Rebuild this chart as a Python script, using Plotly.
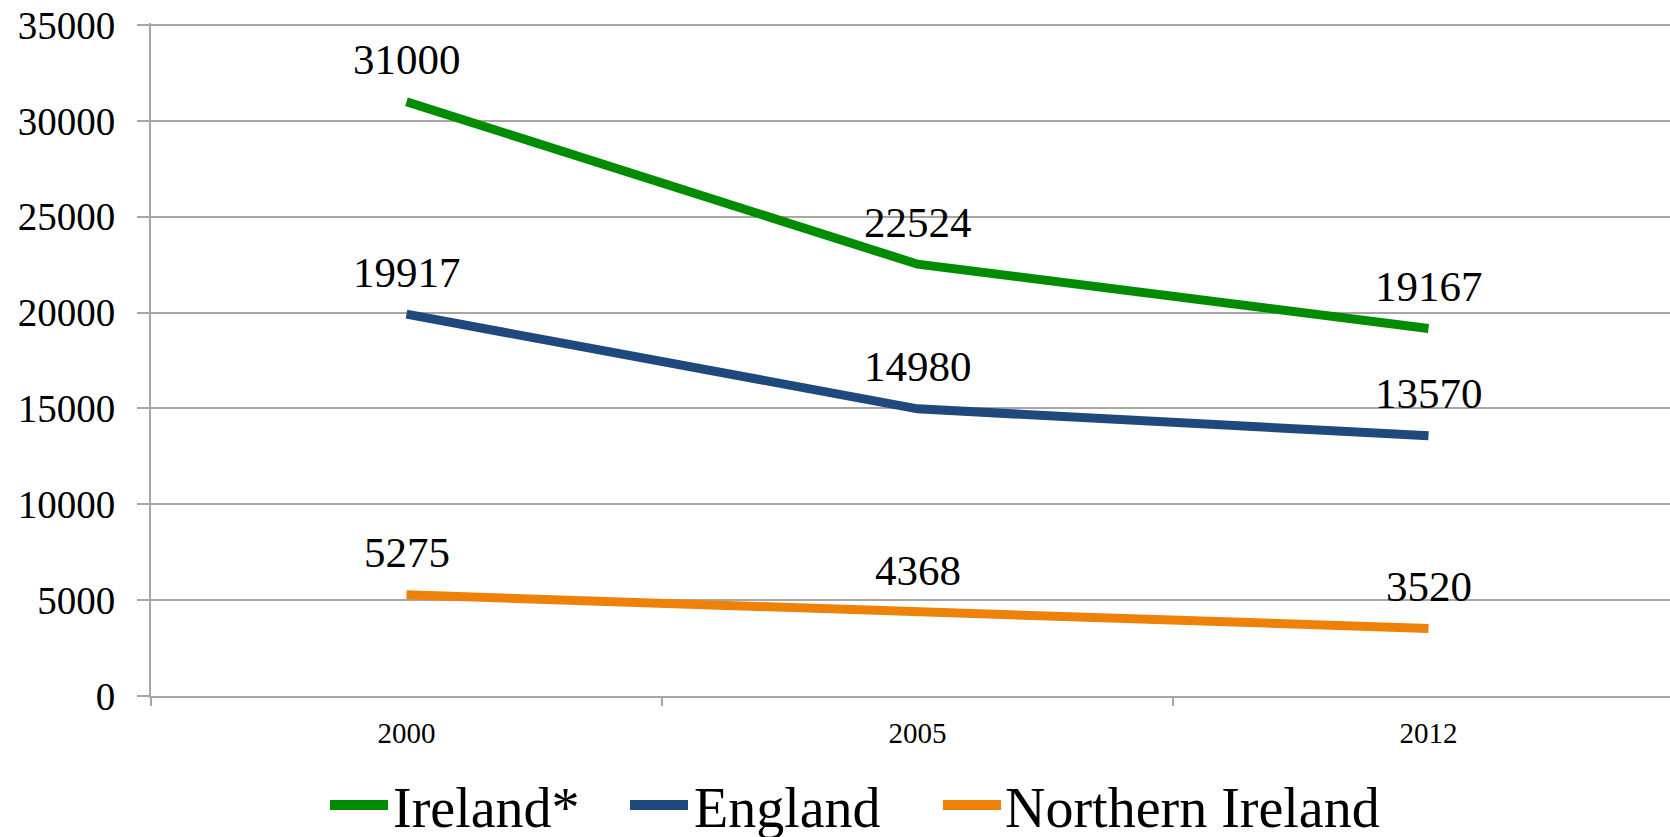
import plotly.graph_objects as go

years = ["2000", "2005", "2012"]
ireland = [31000, 22524, 19167]
england = [19917, 14980, 13570]
northern_ireland = [5275, 4368, 3520]
series_names = ["Ireland*", "England", "Northern Ireland"]
series_values = [ireland, england, northern_ireland]
colors = ["#008C00", "#1F497D", "#EE8208"]
y_ticks = [0, 5000, 10000, 15000, 20000, 25000, 30000, 35000]

FONT = "Liberation Serif"
W, H = 1670, 837
Y0_PX, YTOP_PX = 696, 25          # pixel rows of 0 and 35000
T = YTOP_PX - 2                   # leave 2px so the top gridline is drawn
L, R = 151, 0
B = H - Y0_PX
ph = H - T - B
pw = W - L - R
y_top = 35000 * ph / (Y0_PX - YTOP_PX)

fig = go.Figure()
for name, vals, col in zip(series_names, series_values, colors):
    fig.add_trace(go.Scatter(x=years, y=vals, mode="lines", name=name,
                             line=dict(color=col, width=9), showlegend=False))
    for i, yv in enumerate(vals):
        fig.add_annotation(x=i, y=yv, xref="x", yref="y", text=str(yv), showarrow=False,
                           yshift=42, font=dict(family=FONT, size=43, color="black"))

# manual legend (long line symbols as in reference); positions in page pixels
def px_x(p):
    return (p - L) / pw
def px_y(p):
    return (H - B - p) / ph
leg_sym_x = [330, 630, 943]
leg_txt_x = [392, 693, 1004]
for name, col, sx, tx in zip(series_names, colors, leg_sym_x, leg_txt_x):
    fig.add_shape(type="line", xref="paper", yref="paper",
                  x0=px_x(sx), x1=px_x(sx + 58), y0=px_y(805), y1=px_y(805),
                  line=dict(color=col, width=10))
    fig.add_annotation(xref="paper", yref="paper", x=px_x(tx), y=px_y(808),
                       xanchor="left", yanchor="middle", text=name, showarrow=False,
                       borderpad=0, font=dict(family=FONT, size=56, color="black"))

# category band width in px is ~511; right edge of plot clips the last band
x_right = -0.5 + pw / 511.0

grid_col = "#A6A6A6"
fig.update_layout(
    width=W, height=H,
    margin=dict(l=L, r=R, t=T, b=B, pad=0, autoexpand=False),
    paper_bgcolor="white", plot_bgcolor="white",
    font=dict(family=FONT, color="black"),
    xaxis=dict(type="category", range=[-0.5, x_right], showgrid=False,
               showline=True, linecolor=grid_col, linewidth=2,
               ticks="outside", ticklen=8, tickcolor=grid_col, tickwidth=2,
               tickson="boundaries", tickfont=dict(family=FONT, size=29),
               ticklabelstandoff=10, zeroline=False, automargin=False),
    yaxis=dict(range=[0, y_top], tickvals=y_ticks, tickformat="d", showgrid=True,
               gridcolor=grid_col, gridwidth=2, showline=True,
               linecolor=grid_col, linewidth=2, ticks="outside", ticklen=12,
               tickcolor=grid_col, tickwidth=2, tickfont=dict(family=FONT, size=39),
               ticklabelstandoff=14, ticklabeloverflow="allow",
               zeroline=False, automargin=False),
)

fig.write_html("out.html", config={"displayModeBar": False},
               post_script="document.body.style.margin='0px';document.body.style.overflow='hidden';")
